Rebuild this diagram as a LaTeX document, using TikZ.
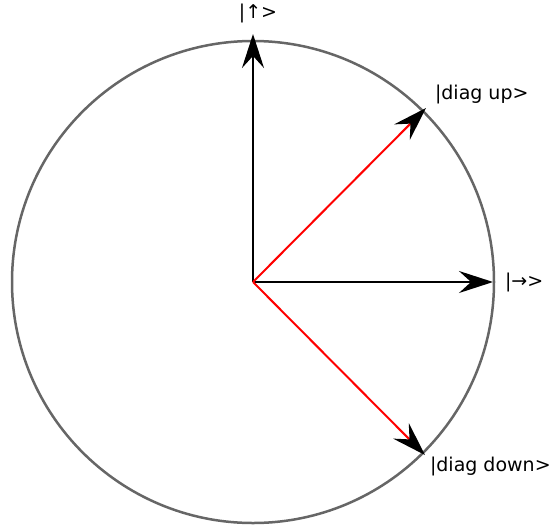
\documentclass[tikz,border=0pt]{standalone}
\usepackage{fontspec}
\setmainfont{DejaVu Sans}
\usepackage{tikz}
\usetikzlibrary{positioning}
\usetikzlibrary{arrows.meta}
\tikzset{>={Stealth[length=34pt,width=22pt,inset=12pt,black]}}
\tikzset{ket/.style={font=\fontsize{19}{22}\selectfont, inner sep=0pt}}

\begin{document}
\begin{tikzpicture}[x=1pt, y=-1pt, outer sep=0pt]
\useasboundingbox (0,0) rectangle (552,531);
\draw[line width=2.5pt, black!60] (253,282) circle (241pt);
\coordinate (O) at (253,282);
\coordinate (up) at (253,34);
\coordinate (right) at (493,282);
\coordinate (diagup) at (426,108);
\coordinate (diagdown) at (425,455);
\draw[line width=2pt, ->] (O) -- (up);
\draw[line width=2pt, ->] (O) -- (right);
\draw[line width=2pt, red, ->] (O) -- (diagup);
\draw[line width=2pt, red, ->] (O) -- (diagdown);
\node[ket] (uplabel) at (258,13) {|↑>};
\node[ket, anchor=west] (diaguplabel) at (435,94) {|diag up>};
\node[ket, anchor=west] (rightlabel) at (505,282) {|→>};
\node[ket, anchor=west] (diagdownlabel) at (430,466) {|diag down>};
\end{tikzpicture}
\end{document}
